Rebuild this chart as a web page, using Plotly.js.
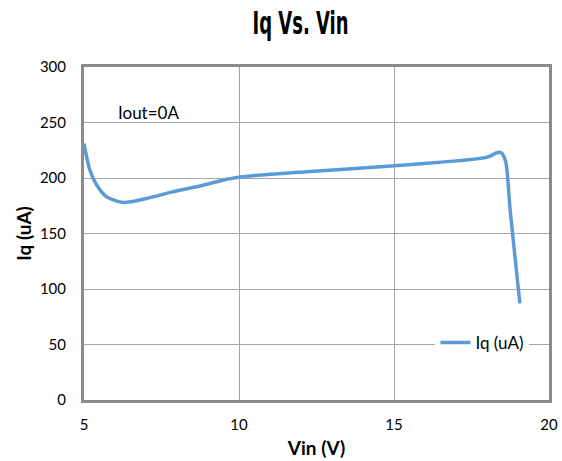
<!DOCTYPE html>
<html>
<head>
<meta charset="utf-8">
<script src="https://cdn.plot.ly/plotly-3.0.1.min.js"></script>
<style>html,body{margin:0;padding:0;background:#fff;}#chart{width:562px;height:461px;}</style>
</head>
<body>
<div id="chart"></div>
<script>
const vin = [5.0, 5.19, 5.41, 5.73, 6.27, 7.02, 7.88, 8.74, 9.6, 10.03, 12.18, 15.03, 17.99, 18.3, 18.45, 18.6, 18.75, 19.06];
const iq  = [231, 207, 193.7, 183, 178, 181.6, 187.7, 192.8, 198.8, 201, 205.7, 211.1, 218.6, 222.5, 223, 215, 170, 87];
const seriesName = 'Iq (uA)';
const chartTitle = 'Iq Vs. Vin';
const xTitle = 'Vin (V)';
const yTitle = 'Iq (uA)';
const note = 'Iout=0A';

const font = 'Lato, "Open Sans", sans-serif';
Plotly.newPlot('chart', [{
  x: vin, y: iq, type: 'scatter', mode: 'lines', name: seriesName,
  line: {color: '#5B9BD5', width: 3.5, shape: 'spline', smoothing: 0.7}
}], {
  width: 562, height: 461,
  margin: {l: 84, r: 13, t: 67, b: 61},
  paper_bgcolor: '#fff', plot_bgcolor: '#fff',
  font: {family: font, size: 15, color: '#000'},
  title: {text: '<b>' + chartTitle + '</b>', x: 0.535, xanchor: 'center', y: 0.975, yanchor: 'top',
          font: {family: '"DejaVu Sans Condensed", "DejaVu Sans", sans-serif', size: 32, color: '#000'}},
  xaxis: {range: [5, 20], dtick: 5, tick0: 5, showgrid: true, gridcolor: '#a6a6a6', gridwidth: 1,
          showline: true, mirror: true, linecolor: '#8c8c8c', linewidth: 3, zeroline: false,
          ticks: '', ticklabelstandoff: 9, tickfont: {size: 15, family: font},
          title: {text: '<b>' + xTitle + '</b>', font: {size: 19, family: font}, standoff: 10}},
  yaxis: {range: [0, 300], dtick: 50, showgrid: true, gridcolor: '#a6a6a6', gridwidth: 1,
          showline: true, mirror: true, linecolor: '#8c8c8c', linewidth: 3, zeroline: false,
          ticks: '', ticklabelstandoff: 12, tickfont: {size: 15, family: font},
          title: {text: '<b>' + yTitle + '</b>', font: {size: 19, family: font}, standoff: 4}},
  showlegend: true,
  legend: {x: 0.958, xanchor: 'right', y: 0.171, yanchor: 'middle', bgcolor: '#fff',
           font: {size: 17, family: font}},
  shapes: [{type: 'rect', xref: 'paper', yref: 'paper', x0: 0.013, x1: 0.245, y0: 0.817, y1: 0.907,
            fillcolor: '#fff', line: {width: 0}, layer: 'between'}],
  annotations: [{xref: 'paper', yref: 'paper', x: 0.069, y: 0.862, xanchor: 'left', yanchor: 'middle',
                 text: note, showarrow: false, font: {size: 17, family: font}}]
}, {displayModeBar: false}).then(function(gd){
  const t = gd.querySelector('.gtitle');
  if (t) {
    const bb = t.getBBox();
    const s = 96 / bb.width;
    const c = bb.x + bb.width / 2;
    t.setAttribute('transform', 'translate(300.5,0) scale(' + s + ',1) translate(' + (-c) + ',0)');
  }
});
</script>
</body>
</html>
